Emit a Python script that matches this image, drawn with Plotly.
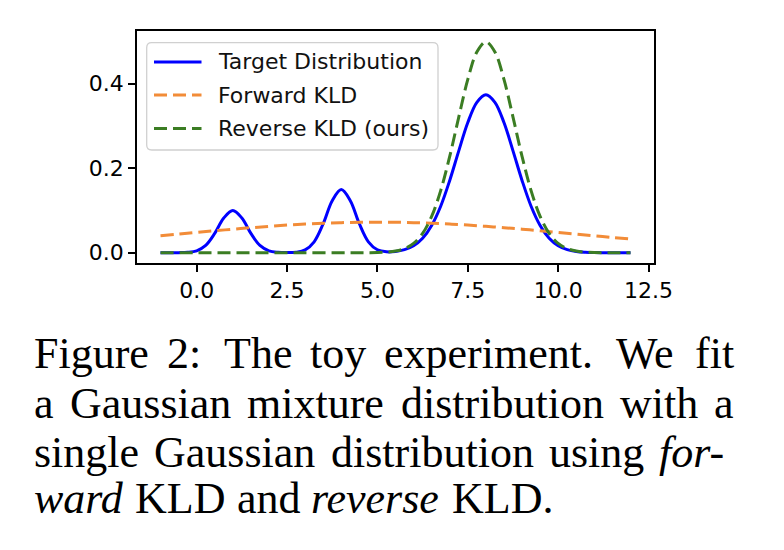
import plotly.graph_objects as go

# ---- data ----
x_target = [-1.0, -0.75, -0.5, -0.25, 0.0, 0.25, 0.5, 0.75, 1.0, 1.25, 1.5, 1.75, 2.0, 2.25, 2.5, 2.75,
            3.0, 3.25, 3.5, 3.75, 4.0, 4.25, 4.5, 4.75, 5.0, 5.25, 5.5, 5.75, 6.0, 6.25, 6.5, 6.75,
            7.0, 7.25, 7.5, 7.75, 8.0, 8.25, 8.5, 8.75, 9.0, 9.25, 9.5, 9.75, 10.0, 10.25, 10.5, 10.75,
            11.0, 11.25, 11.5, 11.75, 12.0]
y_target = [0.0, 0.0, 0.0001, 0.0008, 0.0044, 0.0172, 0.0456, 0.082, 0.0997, 0.082, 0.0456, 0.0172,
            0.0044, 0.0008, 0.0002, 0.0011, 0.0066, 0.0258, 0.0685, 0.1231, 0.1496, 0.1231, 0.0685, 0.0258,
            0.0069, 0.0021, 0.0029, 0.0072, 0.0164, 0.0342, 0.0645, 0.110, 0.171, 0.241, 0.308, 0.356,
            0.374, 0.356, 0.308, 0.241, 0.171, 0.110, 0.0645, 0.0342, 0.0164, 0.0072, 0.0028, 0.0010,
            0.0003, 0.0001, 0.0, 0.0, 0.0]

x_forward = [-1.0, -0.5, 0.0, 0.5, 1.0, 1.5, 2.0, 2.5, 3.0, 3.5, 4.0, 4.5, 5.0, 5.5, 6.0, 6.5, 7.0,
             7.5, 8.0, 8.5, 9.0, 9.5, 10.0, 10.5, 11.0, 11.5, 12.0]
y_forward = [0.0400, 0.0440, 0.0480, 0.0518, 0.0556, 0.0591, 0.0624, 0.0653, 0.0677, 0.0697, 0.0711,
             0.0720, 0.0723, 0.0720, 0.0711, 0.0697, 0.0677, 0.0653, 0.0624, 0.0591, 0.0556, 0.0518,
             0.0480, 0.0440, 0.0400, 0.0361, 0.0323]

x_reverse = [-1.0, 0.0, 1.0, 2.0, 3.0, 4.0, 4.5, 4.75, 5.0, 5.25, 5.5, 5.75, 6.0, 6.25, 6.5, 6.75, 7.0,
             7.25, 7.5, 7.75, 8.0, 8.25, 8.5, 8.75, 9.0, 9.25, 9.5, 9.75, 10.0, 10.25, 10.5, 10.75,
             11.0, 11.25, 11.5, 12.0]
y_reverse = [0.0, 0.0, 0.0, 0.0, 0.0, 0.0, 0.0, 0.0001, 0.0004, 0.0014, 0.0038, 0.0096, 0.0219, 0.0456,
             0.086, 0.147, 0.228, 0.321, 0.410, 0.475, 0.499, 0.475, 0.410, 0.321, 0.228, 0.147, 0.086,
             0.0456, 0.0219, 0.0096, 0.0038, 0.0014, 0.0004, 0.0001, 0.0, 0.0]

series_names = ["Target Distribution", "Forward KLD", "Reverse KLD (ours)"]
x_ticks = [0.0, 2.5, 5.0, 7.5, 10.0, 12.5]
y_ticks = [0.0, 0.2, 0.4]

# caption words: (text, italic)
caption_lines = [
    [("Figure", 0), ("2:", 0), ("The", 0), ("toy", 0), ("experiment.", 0), ("We", 0), ("fit", 0)],
    [("a", 0), ("Gaussian", 0), ("mixture", 0), ("distribution", 0), ("with", 0), ("a", 0)],
    [("single", 0), ("Gaussian", 0), ("distribution", 0), ("using", 0), ("for-", 1)],
    [("ward", 1), ("KLD", 0), ("and", 0), ("reverse", 1), ("KLD.", 0)],
]

# ---- layout constants (reference pixel coordinates) ----
BLUE = "#0000ff"
ORANGE = "#f28c38"
GREEN = "#3b7d23"
DASH = "13px,6px"
OFF = 8                      # page body margin
L, R, T, B = 137, 654, 31, 263
W, H = 784 - OFF, 550 - OFF
FS = 22                      # tick / legend font size


def px(x):
    return (x - L) / (R - L)


def py(y):
    return (B - y) / (B - T)


fig = go.Figure()
fig.add_trace(go.Scatter(x=x_target, y=y_target, mode="lines", name=series_names[0],
                         line=dict(color=BLUE, width=3, shape="spline", smoothing=1.0)))
fig.add_trace(go.Scatter(x=x_forward, y=y_forward, mode="lines", name=series_names[1],
                         line=dict(color=ORANGE, width=3, dash=DASH, shape="spline", smoothing=1.0)))
fig.add_trace(go.Scatter(x=x_reverse, y=y_reverse, mode="lines", name=series_names[2],
                         line=dict(color=GREEN, width=3, dash=DASH, shape="spline", smoothing=1.0)))

axis_common = dict(showline=True, mirror=True, linecolor="black", linewidth=1.6,
                   ticks="outside", ticklen=7, tickwidth=1.6, tickcolor="black",
                   showgrid=False, zeroline=False,
                   tickfont=dict(family="DejaVu Sans", size=FS, color="black"))
fig.update_xaxes(range=[-1.65, 12.65], tickvals=x_ticks,
                 ticktext=[f"{v:.1f}" for v in x_ticks], **axis_common)
fig.update_yaxes(range=[-0.0244, 0.5247], tickvals=y_ticks,
                 ticktext=[f"{v:.1f}" for v in y_ticks], **axis_common)

# ---- custom legend ----
bx0, bx1, by0, by1, rad = 146.7, 438, 42.7, 150, 5


def rounded_path(x0, y0, x1, y1, r):
    pts = [
        ("M", [(x0 + r, y0)]),
        ("L", [(x1 - r, y0)]), ("Q", [(x1, y0), (x1, y0 + r)]),
        ("L", [(x1, y1 - r)]), ("Q", [(x1, y1), (x1 - r, y1)]),
        ("L", [(x0 + r, y1)]), ("Q", [(x0, y1), (x0, y1 - r)]),
        ("L", [(x0, y0 + r)]), ("Q", [(x0, y0), (x0 + r, y0)]),
    ]
    s = ""
    for cmd, ps in pts:
        s += cmd + " " + " ".join(f"{px(a):.5f},{py(b):.5f}" for a, b in ps) + " "
    return s + "Z"


shapes = [dict(type="path", xref="paper", yref="paper", path=rounded_path(bx0, by0, bx1, by1, rad),
               fillcolor="rgba(255,255,255,0.8)", line=dict(color="#d0d0d0", width=1.3), layer="above")]
annotations = []
legend_y = [62, 95, 128.5]
colors = [BLUE, ORANGE, GREEN]
dashes = ["solid", DASH, DASH]
for name, yy, c, d in zip(series_names, legend_y, colors, dashes):
    shapes.append(dict(type="line", xref="paper", yref="paper", x0=px(154), x1=px(201.5),
                       y0=py(yy), y1=py(yy), line=dict(color=c, width=3, dash=d), layer="above"))
    annotations.append(dict(text=name, xref="paper", yref="paper", x=px(216), y=py(yy),
                            xanchor="left", yanchor="middle", showarrow=False,
                            font=dict(family="DejaVu Sans", size=FS, color="#111111")))

# ---- caption (justified, Times metrics) ----
REG = {' ': 250, 'a': 444, 'b': 500, 'c': 444, 'd': 500, 'e': 444, 'f': 333, 'g': 500, 'h': 500,
       'i': 278, 'l': 278, 'm': 778, 'n': 500, 'o': 500, 'p': 500, 'r': 333, 's': 389, 't': 278,
       'u': 500, 'w': 722, 'x': 500, 'y': 500, 'F': 556, 'G': 722, 'K': 722, 'L': 611, 'D': 722,
       'T': 611, 'W': 944, '2': 500, ':': 278, '.': 250, '-': 333}
ITA = {'a': 500, 'd': 500, 'e': 444, 'f': 278, 'o': 500, 'r': 389, 's': 389, 'v': 444, 'w': 667,
       '-': 333}
CAP = 44
cap_left = 33
cap_right = [733, 733, 724, None]
cap_base = [368, 418, 467, 513]


def wwidth(word, ital):
    tab = ITA if ital else REG
    return sum(tab.get(ch, REG.get(ch, 500)) for ch in word) * CAP / 1000.0


for words, right, base in zip(caption_lines, cap_right, cap_base):
    widths = [wwidth(w, it) for w, it in words]
    weights = [1.3 if w[-1] in ".:" else 1.0 for w, _ in words[:-1]]
    if right is None:
        unit = 0.25 * CAP
    else:
        unit = (right - cap_left - sum(widths)) / sum(weights)
    xpos = cap_left
    for i, ((w, it), wd) in enumerate(zip(words, widths)):
        txt = f"<i>{w}</i>" if it else w
        annotations.append(dict(text=txt, xref="paper", yref="paper", x=px(xpos), y=py(base - 0.33 * CAP),
                                xanchor="left", yanchor="middle", showarrow=False, xshift=-1,
                                font=dict(family="Liberation Serif", size=CAP, color="black")))
        if i < len(weights):
            xpos += wd + unit * weights[i]

fig.update_layout(width=W, height=H, autosize=False,
                  margin=dict(l=L - OFF, r=784 - R, t=T - OFF, b=550 - B, pad=0),
                  paper_bgcolor="white", plot_bgcolor="white", showlegend=False,
                  shapes=shapes, annotations=annotations)

fig.write_html("out.html")
